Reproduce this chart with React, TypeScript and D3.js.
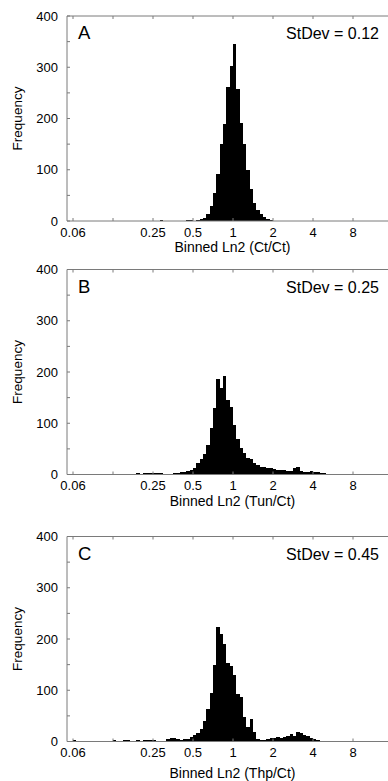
import * as d3 from "d3"

// histogram counts, one entry per bin of 1/12 log2 unit, starting at firstBins[i]
const countsA = [
  1, 0, 0, 0, 0, 0, 0, 0, 1, 1,
  0, 1, 3, 6, 14, 30, 55, 92, 150, 190,
  262, 302, 346, 257, 192, 150, 100, 62, 35, 22,
  13, 7, 3, 1
]
const countsB = [
  3, 1, 2, 2, 3, 2, 3, 2, 0, 1,
  1, 2, 3, 4, 5, 6, 9, 13, 22, 30,
  40, 58, 90, 130, 187, 168, 192, 145, 132, 96,
  70, 52, 42, 32, 30, 22, 18, 14, 14, 13,
  13, 10, 9, 8, 8, 7, 7, 12, 14, 7,
  4, 5, 6, 5, 4, 3, 2
]
const countsC = [
  3, 0, 0, 0, 0, 0, 0, 0, 1, 0,
  0, 0, 3, 1, 0, 2, 2, 1, 0, 2,
  0, 2, 2, 3, 3, 1, 1, 1, 5, 6,
  7, 4, 3, 4, 5, 8, 12, 17, 24, 40,
  63, 95, 150, 224, 210, 190, 153, 148, 130, 93,
  86, 48, 28, 44, 18, 5, 3, 3, 5, 6,
  7, 8, 7, 9, 10, 15, 10, 18, 16, 13,
  10, 7, 4, 2, 0, 0, 0, 0, 0, 0,
  0, 1
]
const firstBins = [-22, -29, -48]
const binsPerOctave = 12

const panelLetters = ["A", "B", "C"]
const stDevs = ["0.12", "0.25", "0.45"]
const xTitles = ["Binned Ln2 (Ct/Ct)", "Binned Ln2 (Tun/Ct)", "Binned Ln2 (Thp/Ct)"]

const xTickValues = [0.0625, 0.125, 0.25, 0.5, 1, 2, 4, 8]
const xTickLabels = ["0.06", "", "0.25", "0.5", "1", "2", "4", "8"]
const yTickValues = [0, 100, 200, 300, 400]
const yMinorTicks = [0, 50, 100, 150, 200, 250, 300, 350, 400]

const W = 388
const H = 781
const left = 67
const right = 388
const tops = [16, 269.5, 536.5]
const plotH = 205
const titleOffsets = [31, 31, 36]
const font = "'Liberation Sans', Arial, sans-serif"
const axisColor = "#7a7a7a"

const x = d3.scaleLog().base(2).domain([0.0625, 8]).range([73, 353])

function Panel({ i, counts }: { i: number; counts: number[] }) {
  const top = tops[i]
  const bottom = top + plotH
  const y = d3.scaleLinear().domain([0, 400]).range([bottom, top])
  const first = firstBins[i]

  const bars = counts
    .map((c, j) => {
      const k = first + j
      const x0 = x(Math.pow(2, k / binsPerOctave))
      const x1 = x(Math.pow(2, (k + 1) / binsPerOctave))
      return { c, x0, x1 }
    })
    .filter(d => d.c > 0)

  return (
    <g>
      {bars.map((d, j) => (
        <rect key={j} x={d.x0} y={y(d.c)} width={d.x1 - d.x0} height={bottom - y(d.c)}
          fill="#000" shapeRendering="crispEdges" />
      ))}
      {/* frame */}
      <line x1={left} x2={right} y1={top} y2={top} stroke={axisColor} />
      <line x1={left} x2={right} y1={bottom} y2={bottom} stroke={axisColor} />
      <line x1={left} x2={left} y1={top} y2={bottom} stroke={axisColor} />
      {yMinorTicks.map(v => (
        <line key={v} x1={left} x2={left + 3} y1={y(v)} y2={y(v)} stroke={axisColor} />
      ))}
      {yTickValues.map(v => (
        <text key={v} x={58} y={y(v)} dy="0.35em" textAnchor="end" fontSize={13}>{v}</text>
      ))}
      {xTickValues.map((v, j) => (
        <g key={j}>
          <line x1={x(v)} x2={x(v)} y1={bottom} y2={bottom - 3} stroke={axisColor} />
          <line x1={x(v)} x2={x(v)} y1={top} y2={top + 3} stroke={axisColor} />
          <text x={x(v)} y={bottom + 15.5} textAnchor="middle" fontSize={13}>{xTickLabels[j]}</text>
        </g>
      ))}
      <text x={(left + right) / 2 + 5} y={bottom + titleOffsets[i]} textAnchor="middle" fontSize={14}>
        {xTitles[i]}
      </text>
      <text transform={`translate(21.5,${(top + bottom) / 2}) rotate(-90)`} textAnchor="middle" fontSize={13.5}>
        Frequency
      </text>
      <text x={78} y={top + 23} fontSize={18.5}>{panelLetters[i]}</text>
      <text x={379} y={top + 23} textAnchor="end" fontSize={16}>StDev = {stDevs[i]}</text>
    </g>
  )
}

export default function App() {
  const all = [countsA, countsB, countsC]
  return (
    <svg width={W} height={H} fontFamily={font}
      style={{ position: "absolute", left: 0, top: 0, display: "block", background: "#fff" }}>
      {all.map((c, i) => <Panel key={i} i={i} counts={c} />)}
    </svg>
  )
}
